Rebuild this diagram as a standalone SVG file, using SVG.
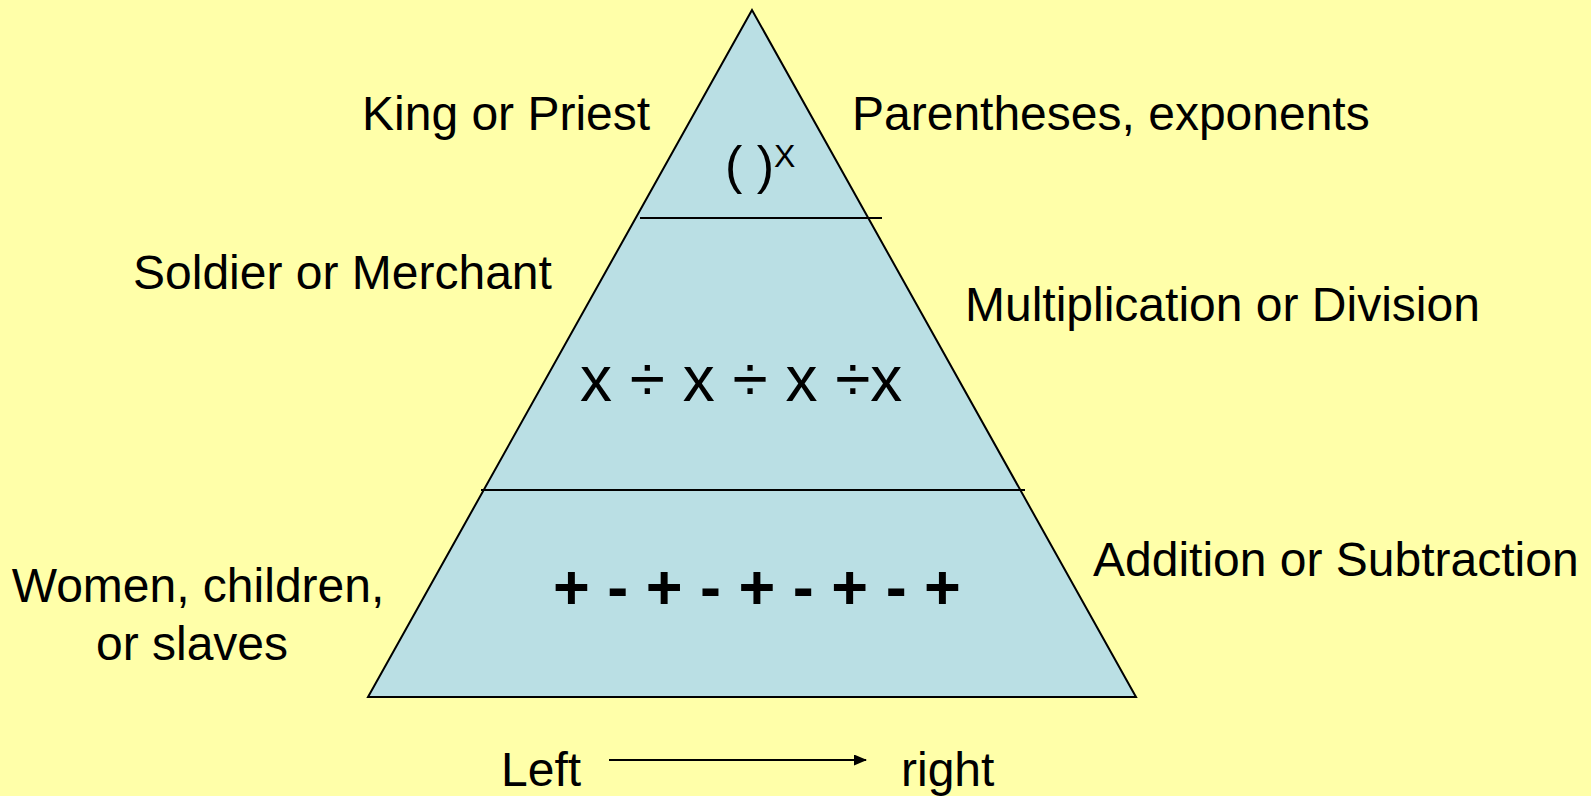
<svg xmlns="http://www.w3.org/2000/svg" width="1591" height="796" viewBox="0 0 1591 796">
<style>
.t{font-family:"Liberation Sans",Arial,sans-serif;font-size:48px;fill:#000}
.ln{stroke:#000;stroke-width:2;fill:none}
</style>
<defs>
<marker id="ah" markerWidth="13" markerHeight="11" refX="12" refY="5.5" orient="auto" markerUnits="userSpaceOnUse">
<path d="M0,0 L13,5.5 L0,11 Z" fill="#000"/>
</marker>
</defs>
<rect width="1591" height="796" fill="#FFFFA9"/>
<g id="pyramid">
<polygon points="752,10 368,697 1136,697" fill="#BADFE4" stroke="#000" stroke-width="2"/>
<line class="ln" x1="640" y1="218" x2="882" y2="218"/>
<line class="ln" x1="481" y1="490" x2="1025" y2="490"/>
</g>
<g id="top-level">
<text class="t" x="725" y="183" style="font-size:52px">( )</text>
<text class="t" x="774" y="167" style="font-size:32px">X</text>
</g>
<g id="middle-level">
<text class="t" x="580" y="401" style="font-size:64px">x ÷ x ÷ x ÷x</text>
</g>
<g id="bottom-level">
<text class="t" x="553" y="609" style="font-size:63px;font-weight:bold">+ - + - + - + - +</text>
</g>
<g id="labels-left">
<text class="t" x="362" y="130">King or Priest</text>
<text class="t" x="133" y="289">Soldier or Merchant</text>
<text class="t" x="198" y="602" text-anchor="middle">Women, children,</text>
<text class="t" x="192" y="660" text-anchor="middle">or slaves</text>
</g>
<g id="labels-right">
<text class="t" x="852" y="130">Parentheses, exponents</text>
<text class="t" x="965" y="321">Multiplication or Division</text>
<text class="t" x="1093" y="576">Addition or Subtraction</text>
</g>
<g id="direction">
<text class="t" x="501" y="786">Left</text>
<text class="t" x="901" y="786">right</text>
</g>
<g id="connectors">
<line x1="609" y1="760" x2="866" y2="760" stroke="#000" stroke-width="2" marker-end="url(#ah)"/>
</g>
</svg>
